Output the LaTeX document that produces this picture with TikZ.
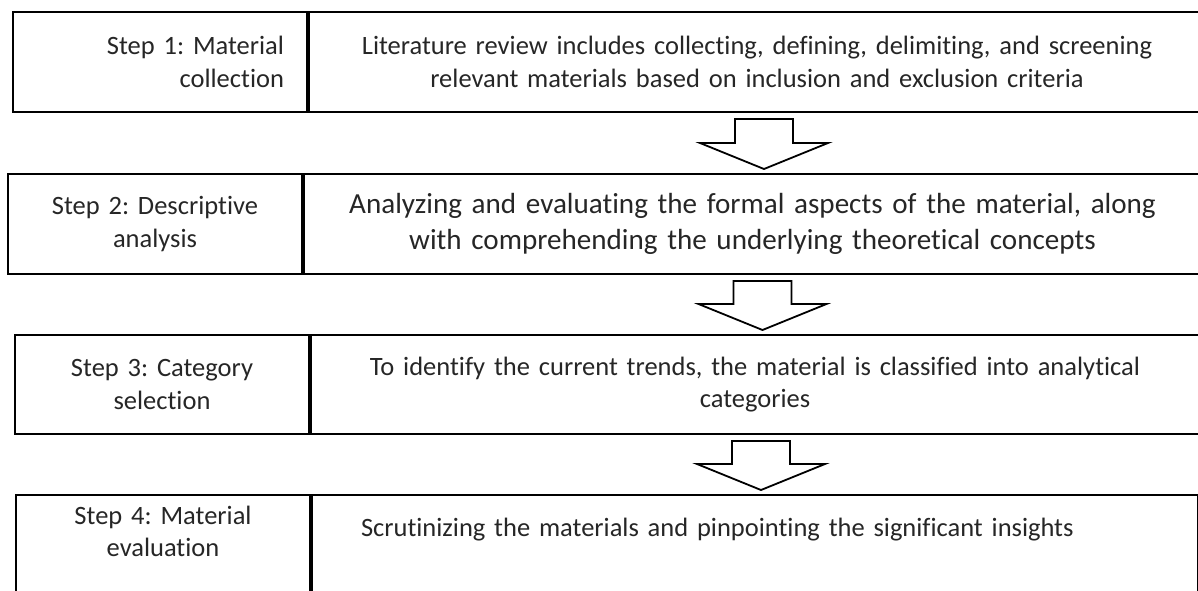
\documentclass[tikz,border=0pt]{standalone}
\usepackage{fontspec}
\setmainfont{Carlito}[Ligatures=NoCommon]
\frenchspacing
\usetikzlibrary{calc}

\tikzset{
  cell/.style={draw, line width=1pt, anchor=north west, inner sep=2pt,
    minimum height=50pt, text=black!85,
    font=\fontsize{13.25pt}{16.4pt}\selectfont},
  stepcell/.style={cell, minimum width=147pt, text width=#1, align=center},
  stepcell/.default=137pt,
  desccell/.style={cell, minimum width=#1, text width=430pt, align=center},
  blockarrow/.style={draw, line width=0.9pt, fill=white, line join=miter},
}

\begin{document}
\begin{tikzpicture}[x=0.5pt, y=-0.5pt]
  \useasboundingbox (0,0) rectangle (1198,590);
  \clip (0,0) rectangle (1198,590);
  % Step 1
  \node[stepcell=124pt, align=right] (s1) at (12,11) {Step 1: Material\\collection};
  \node[desccell=448pt] (d1) at (s1.north east)
    {Literature review includes collecting, defining, delimiting, and screening\\relevant materials based on inclusion and exclusion criteria};
  % Step 2
  \node[stepcell] (s2) at (7,173) {Step 2: Descriptive\\analysis};
  \node[desccell=448.5pt, font=\fontsize{14.55pt}{18pt}\selectfont] (d2) at (s2.north east)
    {Analyzing and evaluating the formal aspects of the material, along\\with comprehending the underlying theoretical concepts};
  % Step 3
  \node[stepcell, minimum height=49.5pt] (s3) at (14,334) {Step 3: Category\\selection};
  \node[desccell=444pt, minimum height=49.5pt] (d3) at (s3.north east)
    {To identify the current trends, the material is classified into analytical\\categories};
  % Step 4 (runs off the bottom)
  \node[stepcell, minimum height=55pt, text height=10pt, text depth=36pt] (s4) at (15,494)
    {Step 4: Material\\evaluation};
  \node[desccell=443pt, minimum height=55pt, text width=394pt, align=left,
    text height=10pt, text depth=24pt] (d4) at (s4.north east)
    {Scrutinizing the materials and pinpointing the significant insights};
  % Thick dividers
  \foreach \s in {s1,s2,s3,s4}
    \draw[line width=2pt] (\s.north east) -- (\s.south east);
  % Block arrows
  \foreach \a/\b/\dx in {d1/d2/7, d2/d3/10, d3/d4/6}{
    \coordinate (top) at ($(\a.south)+(\dx,6)$);
    \coordinate (tip) at ($(top |- \b.north)+(0,-4)$);
    \draw[blockarrow] ($(top)+(-29,0)$) -- ($(top)+(29,0)$) -- ($(tip)+(29,-26)$)
      -- ($(tip)+(64,-26)$) -- (tip) -- ($(tip)+(-64,-26)$) -- ($(tip)+(-29,-26)$) -- cycle;
  }
\end{tikzpicture}
\end{document}
